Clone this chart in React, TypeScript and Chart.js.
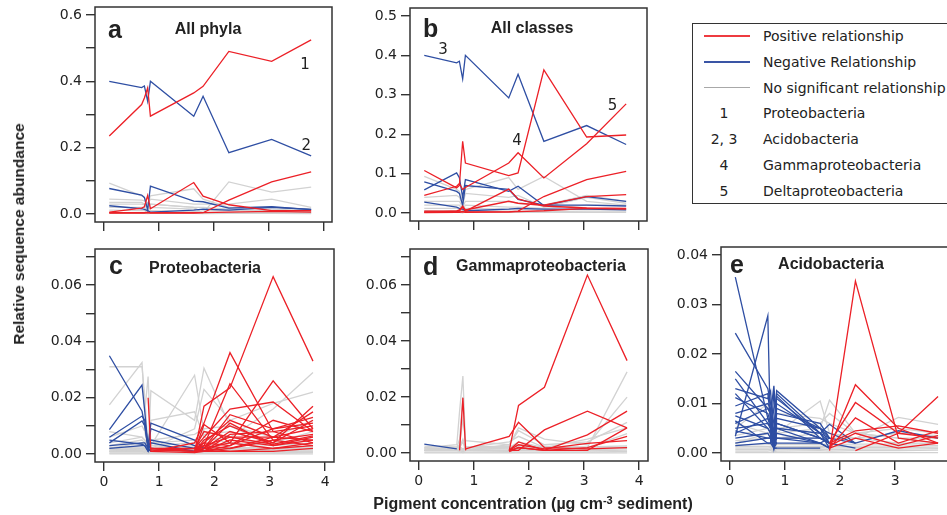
import React, { useEffect, useRef } from "react";
import { Chart, registerables } from "chart.js";

Chart.register(...registerables);

const _ = null;

// Shared sampling positions (pigment concentration, µg cm-3 sediment)
const X_VALUES = [0.1, 0.69, 0.74, 0.8, 0.85, 1.64, 1.81, 2.28, 3.06, 3.78];
const X_TICKS = [0, 1, 2, 3, 4];
const E_X_TICKS = [0, 1, 2, 3];

// ---------- Panel a: All phyla ----------
const A_POS = [
  [0.235, 0.33, 0.35, 0.38, 0.295, 0.365, 0.385, 0.49, 0.46, 0.525],
  [0.006, 0.018, 0.022, 0.056, 0.016, 0.095, 0.054, 0.028, 0.01, 0.01],
  [0.004, 0.004, 0.004, 0.005, 0.004, 0.004, 0.004, 0.042, 0.097, 0.127],
  [0.003, 0.003, 0.003, 0.004, 0.003, 0.003, 0.004, 0.006, 0.008, 0.006],
];
const A_NEG = [
  [0.4, 0.381, 0.386, 0.34, 0.4, 0.295, 0.355, 0.185, 0.225, 0.175],
  [0.077, 0.057, 0.05, 0.013, 0.084, 0.039, 0.037, 0.018, 0.022, 0.013],
  [0.025, 0.016, 0.014, 0.01, 0.006, 0.012, 0.015, 0.012, 0.02, 0.014],
];
const A_NS = [
  [0.093, 0.055, 0.05, 0.03, 0.055, 0.076, 0.045, 0.02, 0.02, 0.015],
  [0.035, 0.035, 0.03, 0.02, 0.03, 0.02, 0.003, 0.097, 0.066, 0.081],
  [0.045, 0.042, 0.04, 0.03, 0.045, 0.03, 0.03, 0.03, 0.045, 0.02],
  [0.03, 0.03, 0.028, 0.015, 0.03, 0.02, 0.02, 0.015, 0.015, 0.01],
  [0.02, 0.02, 0.02, 0.01, 0.02, 0.015, 0.012, 0.01, 0.01, 0.008],
  [0.012, 0.01, 0.01, 0.005, 0.01, 0.008, 0.006, 0.005, 0.006, 0.004],
  [0.004, 0.004, 0.004, 0.002, 0.004, 0.003, 0.003, 0.003, 0.003, 0.002],
  [0.002, 0.002, 0.002, 0.001, 0.002, 0.002, 0.001, 0.002, 0.002, 0.001],
];
const A_Y_TICKS = [0, 0.1, 0.2, 0.3, 0.4, 0.5, 0.6];
const A_Y_LABELED = [0, 0.2, 0.4, 0.6];

// ---------- Panel b: All classes ----------
const B_POS = [
  [0.108, 0.064, 0.07, 0.182, 0.127, 0.095, 0.102, 0.363, 0.193, 0.198],
  [0.045, 0.068, 0.075, 0.06, 0.065, 0.127, 0.153, 0.089, 0.176, 0.277],
  [0.005, 0.005, 0.005, 0.015, 0.005, 0.061, 0.036, 0.018, 0.013, 0.012],
  [0.003, 0.003, 0.003, 0.003, 0.003, 0.003, 0.005, 0.042, 0.085, 0.106],
  [0.002, 0.005, 0.008, 0.018, 0.008, 0.03, 0.025, 0.02, 0.042, 0.047],
  [0.001, 0.002, 0.002, 0.004, 0.002, 0.003, 0.004, 0.006, 0.012, 0.01],
];
const B_NEG = [
  [0.4, 0.381, 0.385, 0.34, 0.4, 0.292, 0.352, 0.182, 0.222, 0.174],
  [0.059, 0.102, 0.09, 0.04, 0.085, 0.055, 0.068, 0.019, 0.042, 0.03],
  [0.079, 0.055, 0.05, 0.02, 0.07, 0.06, 0.035, 0.02, 0.02, 0.018],
  [0.028, 0.015, 0.012, 0.01, 0.006, 0.01, 0.012, 0.01, 0.01, 0.008],
];
const B_NS = [
  [0.093, 0.06, 0.055, 0.03, 0.06, 0.09, 0.06, 0.093, 0.03, 0.02],
  [0.04, 0.045, 0.04, 0.02, 0.05, 0.04, 0.045, 0.015, 0.04, 0.025],
  [0.03, 0.03, 0.03, 0.015, 0.03, 0.03, 0.025, 0.02, 0.045, 0.03],
  [0.02, 0.02, 0.02, 0.01, 0.02, 0.015, 0.015, 0.012, 0.02, 0.02],
  [0.012, 0.012, 0.01, 0.006, 0.012, 0.01, 0.01, 0.008, 0.01, 0.01],
  [0.006, 0.006, 0.005, 0.003, 0.006, 0.005, 0.005, 0.004, 0.005, 0.005],
  [0.003, 0.003, 0.002, 0.001, 0.003, 0.002, 0.002, 0.002, 0.002, 0.002],
];
const B_Y_TICKS = [0, 0.1, 0.2, 0.3, 0.4, 0.5];
const B_Y_LABELED = [0, 0.1, 0.2, 0.3, 0.4, 0.5];

// ---------- Panel c: Proteobacteria ----------
const C_POS = [
  [_, _, _, _, _, 0.0008, 0.017, 0.0235, 0.063, 0.033],
  [_, _, _, _, 0.001, 0.004, 0.011, 0.036, 0.008, 0.004],
  [_, _, _, _, 0.001, 0.002, 0.003, 0.025, 0.005, 0.003],
  [_, _, _, _, _, 0.001, 0.002, 0.004, 0.026, 0.009],
  [_, _, _, _, 0.002, 0.002, 0.006, 0.016, 0.0185, 0.008],
  [_, _, _, _, _, 0.001, 0.002, 0.008, 0.004, 0.017],
  [_, _, _, _, _, 0.002, 0.004, 0.012, 0.006, 0.015],
  [_, _, _, _, 0.002, 0.001, 0.002, 0.014, 0.009, 0.013],
  [_, _, _, _, _, 0.001, 0.001, 0.003, 0.009, 0.011],
  [_, _, _, _, _, 0.002, 0.008, 0.006, 0.006, 0.009],
  [_, _, _, _, _, 0.001, 0.003, 0.002, 0.005, 0.007],
  [_, _, _, _, _, 0.001, 0.001, 0.005, 0.003, 0.006],
  [_, _, _, _, _, 0.001, 0.001, 0.002, 0.006, 0.005],
  [_, _, _, _, _, 0.0008, 0.002, 0.001, 0.002, 0.004],
  [_, _, _, 0.02, 0.001, 0.0005, 0.001, 0.001, 0.001, 0.002],
  [_, _, _, _, _, 0.001, 0.005, 0.01, 0.004, 0.012],
  [_, _, _, _, _, 0.002, 0.001, 0.007, 0.008, 0.01],
  [_, _, _, _, _, 0.001, 0.004, 0.003, 0.012, 0.008],
  [_, _, _, _, _, 0.0005, 0.002, 0.011, 0.003, 0.005],
  [_, _, _, _, 0.0015, 0.001, 0.0105, 0.004, 0.002, 0.003],
  [_, _, _, _, _, 0.001, 0.003, 0.006, 0.0035, 0.0065],
];
const C_NEG = [
  [0.0349, 0.0152, 0.01, 0.002, 0.001, _, _, _, _, _],
  [0.0087, 0.0245, 0.015, 0.002, 0.001, _, _, _, _, _],
  [0.006, 0.0135, 0.012, 0.003, 0.011, 0.005, 0.002, _, _, _],
  [0.004, 0.0118, 0.01, 0.002, 0.009, 0.003, 0.001, _, _, _],
  [0.003, 0.004, 0.004, 0.002, 0.005, 0.002, 0.001, _, _, _],
  [0.005, 0.0035, 0.003, 0.001, 0.004, 0.001, _, _, _, _],
  [0.002, 0.003, 0.003, 0.001, 0.002, 0.001, _, _, _, _],
];
const C_NS = [
  [0.031, 0.031, 0.02, 0.002, 0.001, 0.001, 0.001, 0.001, 0.001, 0.001],
  [0.0175, 0.0325, 0.015, 0.0275, 0.003, 0.002, 0.002, 0.001, 0.002, 0.002],
  [0.002, 0.004, 0.003, 0.001, 0.0225, 0.012, 0.0305, 0.01, 0.003, 0.004],
  [0.004, 0.006, 0.005, 0.002, 0.003, 0.028, 0.008, 0.006, 0.016, 0.029],
  [0.001, 0.002, 0.002, 0.001, 0.002, 0.009, 0.023, 0.012, 0.018, 0.022],
  [0.006, 0.01, 0.008, 0.002, 0.005, 0.007, 0.009, 0.01, 0.006, 0.012],
  [0.003, 0.005, 0.004, 0.001, 0.004, 0.005, 0.007, 0.008, 0.004, 0.008],
  [0.002, 0.003, 0.003, 0.001, 0.003, 0.004, 0.005, 0.006, 0.003, 0.006],
  [0.008, 0.006, 0.005, 0.003, 0.012, 0.015, 0.006, 0.004, 0.003, 0.005],
  [0.0015, 0.002, 0.002, 0.0005, 0.002, 0.003, 0.003, 0.004, 0.002, 0.004],
  [0.001, 0.0015, 0.0015, 0.0005, 0.0015, 0.002, 0.002, 0.002, 0.0015, 0.003],
  [0.0025, 0.0022, 0.0024, 0.0015, 0.0022, 0.0025, 0.0022, 0.0024, 0.0022, 0.0026],
  [0.0019, 0.0018, 0.002, 0.001, 0.0019, 0.002, 0.0018, 0.0019, 0.0017, 0.0021],
  [0.0014, 0.0013, 0.0015, 0.0008, 0.0014, 0.0015, 0.0013, 0.0014, 0.0012, 0.0016],
  [0.0009, 0.0009, 0.001, 0.0005, 0.0009, 0.001, 0.0009, 0.0009, 0.0008, 0.0011],
  [0.0004, 0.0004, 0.0005, 0.0002, 0.0004, 0.0005, 0.0004, 0.0004, 0.0004, 0.0006],
  [0.0001, 0.0001, 0.0001, 0.0001, 0.0001, 0.0001, 0.0001, 0.0001, 0.0001, 0.0001],
];
const CD_Y_TICKS = [0, 0.01, 0.02, 0.03, 0.04, 0.05, 0.06, 0.07];
const CD_Y_LABELED = [0, 0.02, 0.04, 0.06];

// ---------- Panel d: Gammaproteobacteria ----------
const D_POS = [
  [_, _, _, _, _, 0.0008, 0.017, 0.0235, 0.0635, 0.033],
  [_, _, _, _, 0.0015, 0.006, 0.011, 0.002, 0.0015, 0.002],
  [_, _, _, _, _, 0.001, 0.001, 0.0083, 0.015, 0.009],
  [_, _, _, _, _, 0.001, 0.002, 0.001, 0.0065, 0.015],
  [_, _, 0.001, 0.0197, 0.001, _, _, _, _, _],
  [_, _, _, _, _, 0.001, 0.004, 0.001, 0.002, 0.006],
  [_, _, _, _, _, 0.0005, 0.002, 0.001, 0.001, 0.009],
  [_, _, _, _, _, 0.001, 0.003, 0.0015, 0.0035, 0.0045],
];
const D_NEG = [[0.0032, 0.0015, _, _, _, _, _, _, _, _]];
const D_NS = [
  [0.002, 0.003, 0.015, 0.0275, 0.002, 0.002, 0.003, 0.002, 0.002, 0.029],
  [0.001, 0.002, 0.005, 0.02, 0.001, 0.003, 0.009, 0.005, 0.003, 0.02],
  [0.001, 0.002, 0.003, 0.012, 0.0045, 0.003, 0.008, 0.003, 0.004, 0.011],
  [0.0015, 0.002, 0.002, 0.005, 0.002, 0.004, 0.006, 0.002, 0.005, 0.009],
  [0.001, 0.001, 0.002, 0.004, 0.001, 0.002, 0.004, 0.002, 0.002, 0.007],
  [0.0025, 0.0022, 0.0024, 0.0015, 0.0022, 0.0025, 0.0022, 0.0024, 0.0022, 0.0026],
  [0.0019, 0.0018, 0.002, 0.001, 0.0019, 0.002, 0.0018, 0.0019, 0.0017, 0.0021],
  [0.0014, 0.0013, 0.0015, 0.0008, 0.0014, 0.0015, 0.0013, 0.0014, 0.0012, 0.0016],
  [0.0009, 0.0009, 0.001, 0.0005, 0.0009, 0.001, 0.0009, 0.0009, 0.0008, 0.0011],
  [0.0004, 0.0004, 0.0005, 0.0002, 0.0004, 0.0005, 0.0004, 0.0004, 0.0004, 0.0006],
  [0.0001, 0.0001, 0.0001, 0.0001, 0.0001, 0.0001, 0.0001, 0.0001, 0.0001, 0.0001],
];

// ---------- Panel e: Acidobacteria ----------
const E_POS = [
  [_, _, _, _, _, _, 0.0005, 0.0347, 0.003, 0.002],
  [_, _, _, _, _, _, 0.001, 0.0138, 0.005, 0.002],
  [_, _, _, _, _, _, 0.002, 0.0102, 0.004, 0.003],
  [_, _, _, _, _, _, 0.001, 0.0071, 0.002, 0.0045],
  [_, _, _, _, _, _, _, 0.0005, 0.004, 0.0114],
  [_, _, _, _, _, _, 0.002, 0.0045, 0.0055, 0.004],
  [_, _, _, _, _, _, 0.001, 0.003, 0.001, 0.002],
  [_, _, _, _, _, _, 0.0015, 0.004, 0.0015, 0.0035],
];
const E_NEG = [
  [0.0355, 0.007, 0.005, 0.003, 0.002, _, _, _, _, _],
  [0.0242, 0.013, 0.01, 0.006, 0.003, 0.002, _, _, _, _],
  [0.0034, 0.0277, 0.003, 0.001, 0.001, _, _, _, _, _],
  [0.0165, 0.009, 0.008, 0.0136, 0.006, 0.003, 0.002, _, _, _],
  [0.015, 0.006, 0.005, 0.004, 0.0126, 0.005, 0.003, _, _, _],
  [0.013, 0.011, 0.0125, 0.003, 0.012, 0.004, 0.002, _, _, _],
  [0.0112, 0.008, 0.006, 0.002, 0.008, 0.006, 0.003, _, _, _],
  [0.0095, 0.012, 0.007, 0.004, 0.01, 0.004, 0.001, _, _, _],
  [0.0075, 0.005, 0.004, 0.002, 0.009, 0.005, 0.004, 0.002, _, _],
  [0.006, 0.009, 0.008, 0.002, 0.006, 0.003, 0.002, _, _, _],
  [0.004, 0.007, 0.006, 0.001, 0.005, 0.004, 0.0058, 0.002, _, _],
  [0.003, 0.004, 0.003, 0.001, 0.004, 0.002, 0.003, 0.002, 0.0045, 0.003],
  [0.002, 0.003, 0.003, 0.001, 0.002, 0.002, 0.001, _, _, _],
  [0.0015, 0.002, 0.002, 0.001, 0.001, 0.001, _, _, _, _],
  [0.012, 0.005, 0.004, 0.009, 0.011, 0.004, 0.003, _, _, _],
  [0.008, 0.01, 0.009, 0.002, 0.007, 0.005, 0.002, 0.001, _, _],
  [0.0065, 0.002, 0.002, 0.0125, 0.005, 0.002, 0.001, _, _, _],
  [0.005, 0.006, 0.005, 0.001, 0.003, 0.003, 0.002, _, _, _],
  [0.0045, 0.003, 0.003, 0.003, 0.0115, 0.003, 0.002, _, _, _],
];
const E_NS = [
  [0.0035, 0.005, 0.004, 0.002, 0.004, 0.0105, 0.004, 0.003, 0.002, 0.002],
  [0.002, 0.003, 0.003, 0.001, 0.004, 0.005, 0.0107, 0.004, 0.003, 0.002],
  [0.002, 0.004, 0.003, 0.002, 0.003, 0.004, 0.004, 0.003, 0.0072, 0.0058],
  [0.005, 0.01, 0.007, 0.004, 0.008, 0.007, 0.006, 0.004, 0.005, 0.004],
  [0.006, 0.004, 0.004, 0.001, 0.005, 0.006, 0.008, 0.004, 0.003, 0.003],
  [0.0025, 0.003, 0.003, 0.001, 0.003, 0.003, 0.003, 0.003, 0.004, 0.0035],
  [0.0016, 0.0017, 0.0018, 0.001, 0.0017, 0.0018, 0.0017, 0.0018, 0.0018, 0.0019],
  [0.0013, 0.0013, 0.0014, 0.0008, 0.0013, 0.0014, 0.0013, 0.0014, 0.0014, 0.0015],
  [0.001, 0.001, 0.0011, 0.0006, 0.001, 0.0011, 0.001, 0.0011, 0.0011, 0.0012],
  [0.0007, 0.0007, 0.0008, 0.0004, 0.0007, 0.0008, 0.0007, 0.0008, 0.0008, 0.0009],
  [0.0004, 0.0004, 0.0005, 0.0002, 0.0004, 0.0005, 0.0004, 0.0005, 0.0005, 0.0006],
  [0.0001, 0.0001, 0.0001, 0.0001, 0.0001, 0.0001, 0.0001, 0.0001, 0.0001, 0.0001],
];
const E_Y_TICKS = [0, 0.01, 0.02, 0.03, 0.04];
const E_Y_LABELED = [0, 0.01, 0.02, 0.03, 0.04];

// ---------- Legend ----------
const LEGEND_LINE_LABELS = ["Positive relationship", "Negative Relationship", "No significant relationship"];
const LEGEND_KEY_NUMBERS = ["1", "2, 3", "4", "5"];
const LEGEND_KEY_NAMES = ["Proteobacteria", "Acidobacteria", "Gammaproteobacteria", "Deltaproteobacteria"];

// ---------- Styles ----------
const RED = "#ec2027";
const BLUE = "#2e4ea3";
const GRAY = "#d2d2d2";
const LEGEND_COLORS = ["#ee3b40", "#3a55a5", "#a8a8a8"];
const INK = "#222";
const TICK_FONT = "'DejaVu Sans', sans-serif";
const BOLD_FONT = "'Liberation Sans', Arial, sans-serif";

const AXIS_W = 70;
const AXIS_H = 40;
const PAD_T = 14;
const PAD_R = 14;

type Rows = (number | null)[][];

const lines = (rows: Rows, color: string) =>
  rows.map((r) => ({
    data: X_VALUES.map((x, i) => ({ x, y: r[i] })),
    borderColor: color,
    backgroundColor: color,
    borderWidth: 1.3,
    pointRadius: 0,
    fill: false,
    tension: 0,
    spanGaps: false,
  }));

const near = (v: number, list: number[]) => list.some((t) => Math.abs(t - v) < 1e-9);

const panelPlugin = {
  id: "panelDeco",
  afterDraw(chart: any, _args: any, opts: any) {
    const { ctx, chartArea: a, scales } = chart;
    ctx.save();
    ctx.strokeStyle = "#333";
    ctx.lineWidth = 1.5;
    ctx.strokeRect(a.left, a.top, a.right - a.left, a.bottom - a.top);
    ctx.fillStyle = INK;
    ctx.textBaseline = "alphabetic";
    ctx.textAlign = "left";
    ctx.font = `bold 25px ${BOLD_FONT}`;
    ctx.fillText(opts.letter, a.left + opts.letterPos[0], a.top + opts.letterPos[1]);
    ctx.textAlign = "center";
    ctx.font = `bold 16px ${BOLD_FONT}`;
    ctx.fillText(opts.title, a.left + opts.titlePos[0], a.top + opts.titlePos[1]);
    ctx.font = `15px ${TICK_FONT}`;
    ctx.textBaseline = "middle";
    (opts.notes || []).forEach((n: any) => {
      ctx.fillText(n.text, scales.x.getPixelForValue(n.x), scales.y.getPixelForValue(n.y));
    });
    ctx.restore();
  },
};

type PanelCfg = {
  box: { l: number; t: number; w: number; h: number };
  pos: Rows;
  neg: Rows;
  ns: Rows;
  xTicks: number[];
  yMin: number;
  yMax: number;
  yTicks: number[];
  yLabeled: number[];
  yDigits: number;
  showX: boolean;
  letter: string;
  letterPos: [number, number];
  title: string;
  titlePos: [number, number];
  notes?: { text: string; x: number; y: number }[];
};

const PANELS: PanelCfg[] = [
  {
    box: { l: 95, t: 7, w: 237, h: 215 },
    pos: A_POS, neg: A_NEG, ns: A_NS, xTicks: X_TICKS,
    yMin: -0.024, yMax: 0.624, yTicks: A_Y_TICKS, yLabeled: A_Y_LABELED, yDigits: 1,
    showX: false, letter: "a", letterPos: [13, 31], title: "All phyla", titlePos: [113, 27],
    notes: [
      { text: "1", x: 3.67, y: 0.449 },
      { text: "2", x: 3.69, y: 0.206 },
    ],
  },
  {
    box: { l: 410, t: 8, w: 237, h: 213 },
    pos: B_POS, neg: B_NEG, ns: B_NS, xTicks: X_TICKS,
    yMin: -0.02, yMax: 0.52, yTicks: B_Y_TICKS, yLabeled: B_Y_LABELED, yDigits: 1,
    showX: false, letter: "b", letterPos: [13, 29], title: "All classes", titlePos: [122, 25],
    notes: [
      { text: "3", x: 0.44, y: 0.412 },
      { text: "4", x: 1.79, y: 0.183 },
      { text: "5", x: 3.53, y: 0.272 },
    ],
  },
  {
    box: { l: 95, t: 249, w: 239, h: 213 },
    pos: C_POS, neg: C_NEG, ns: C_NS, xTicks: X_TICKS,
    yMin: -0.0028, yMax: 0.0728, yTicks: CD_Y_TICKS, yLabeled: CD_Y_LABELED, yDigits: 2,
    showX: true, letter: "c", letterPos: [14, 25], title: "Proteobacteria", titlePos: [110, 24],
  },
  {
    box: { l: 410, t: 249, w: 238, h: 212 },
    pos: D_POS, neg: D_NEG, ns: D_NS, xTicks: X_TICKS,
    yMin: -0.0028, yMax: 0.0728, yTicks: CD_Y_TICKS, yLabeled: CD_Y_LABELED, yDigits: 2,
    showX: true, letter: "d", letterPos: [13, 26], title: "Gammaproteobacteria", titlePos: [131, 22],
  },
  {
    box: { l: 721, t: 247, w: 238, h: 214 },
    pos: E_POS, neg: E_NEG, ns: E_NS, xTicks: E_X_TICKS,
    yMin: -0.0016, yMax: 0.0416, yTicks: E_Y_TICKS, yLabeled: E_Y_LABELED, yDigits: 2,
    showX: true, letter: "e", letterPos: [9, 26], title: "Acidobacteria", titlePos: [110, 22],
  },
];

function Panel({ cfg }: { cfg: PanelCfg }) {
  const ref = useRef<HTMLCanvasElement>(null);
  const W = cfg.box.w + AXIS_W + PAD_R;
  const H = cfg.box.h + PAD_T + AXIS_H;

  useEffect(() => {
    if (!ref.current) return;
    const gridOpts = {
      display: true,
      drawOnChartArea: false,
      drawTicks: true,
      tickLength: 9,
      color: "#333",
      lineWidth: 1.4,
    };
    const chart = new Chart(ref.current, {
      type: "line",
      data: {
        datasets: [...lines(cfg.pos, RED), ...lines(cfg.neg, BLUE), ...lines(cfg.ns, GRAY)] as any,
      },
      options: {
        animation: false,
        responsive: false,
        events: [],
        layout: { padding: { top: PAD_T, right: PAD_R, left: 0, bottom: 0 } },
        plugins: {
          legend: { display: false },
          tooltip: { enabled: false },
          panelDeco: {
            letter: cfg.letter,
            letterPos: cfg.letterPos,
            title: cfg.title,
            titlePos: cfg.titlePos,
            notes: cfg.notes,
          },
        } as any,
        scales: {
          x: {
            type: "linear",
            min: -0.16,
            max: 4.16,
            afterBuildTicks: (s: any) => {
              s.ticks = cfg.xTicks.map((v) => ({ value: v }));
            },
            afterFit: (s: any) => {
              s.height = AXIS_H;
            },
            grid: gridOpts,
            border: { display: false },
            ticks: {
              autoSkip: false,
              maxRotation: 0,
              padding: 3,
              color: INK,
              font: { family: TICK_FONT, size: 14 },
              callback: (v: any) => (cfg.showX ? String(v) : ""),
            },
          },
          y: {
            type: "linear",
            min: cfg.yMin,
            max: cfg.yMax,
            afterBuildTicks: (s: any) => {
              s.ticks = cfg.yTicks.map((v) => ({ value: v }));
            },
            afterFit: (s: any) => {
              s.width = AXIS_W;
            },
            grid: gridOpts,
            border: { display: false },
            ticks: {
              autoSkip: false,
              padding: 4,
              color: INK,
              font: { family: TICK_FONT, size: 14 },
              callback: (v: any) => (near(Number(v), cfg.yLabeled) ? Number(v).toFixed(cfg.yDigits) : ""),
            },
          },
        },
      },
      plugins: [panelPlugin],
    });
    return () => chart.destroy();
  }, []);

  return (
    <canvas
      ref={ref}
      width={W}
      height={H}
      style={{
        position: "absolute",
        left: cfg.box.l - AXIS_W,
        top: cfg.box.t - PAD_T,
        width: W,
        height: H,
      }}
    />
  );
}

function Legend() {
  const rowY = (i: number) => 12 + i * 25.8;
  const text: React.CSSProperties = {
    position: "absolute",
    fontFamily: TICK_FONT,
    fontSize: 14,
    color: INK,
    whiteSpace: "nowrap",
    lineHeight: "16px",
    transform: "translateY(-50%)",
  };
  return (
    <div
      style={{
        position: "absolute",
        left: 692,
        top: 23,
        width: 264,
        height: 181,
        border: "1.5px solid #333",
        boxSizing: "border-box",
      }}
    >
      {LEGEND_LINE_LABELS.map((lab, i) => (
        <React.Fragment key={lab}>
          <div
            style={{
              position: "absolute",
              left: 11,
              width: 46,
              top: rowY(i) - 0.75,
              height: 1.5,
              backgroundColor: LEGEND_COLORS[i],
            }}
          />
          <div style={{ ...text, left: 70, top: rowY(i) }}>{lab}</div>
        </React.Fragment>
      ))}
      {LEGEND_KEY_NAMES.map((name, j) => (
        <React.Fragment key={name}>
          <div style={{ ...text, left: 31, top: rowY(j + 3), transform: "translate(-50%, -50%)" }}>
            {LEGEND_KEY_NUMBERS[j]}
          </div>
          <div style={{ ...text, left: 70, top: rowY(j + 3) }}>{name}</div>
        </React.Fragment>
      ))}
    </div>
  );
}

export default function App() {
  return (
    <div
      style={{
        position: "absolute",
        left: 0,
        top: 0,
        width: 947,
        height: 515,
        overflow: "hidden",
        background: "#fff",
      }}
    >
      {PANELS.map((p) => (
        <Panel key={p.letter} cfg={p} />
      ))}
      <Legend />
      <div
        style={{
          position: "absolute",
          left: 19,
          top: 234,
          transform: "translate(-50%, -50%) rotate(-90deg)",
          fontFamily: BOLD_FONT,
          fontWeight: "bold",
          fontSize: 15.5,
          color: INK,
          whiteSpace: "nowrap",
        }}
      >
        Relative sequence abundance
      </div>
      <div
        style={{
          position: "absolute",
          left: 533,
          top: 504,
          transform: "translate(-50%, -50%)",
          fontFamily: BOLD_FONT,
          fontWeight: "bold",
          fontSize: 16,
          color: INK,
          whiteSpace: "nowrap",
        }}
      >
        Pigment concentration (µg cm<sup style={{ fontSize: 11, verticalAlign: "top", lineHeight: "10px" }}>-3</sup> sediment)
      </div>
    </div>
  );
}
